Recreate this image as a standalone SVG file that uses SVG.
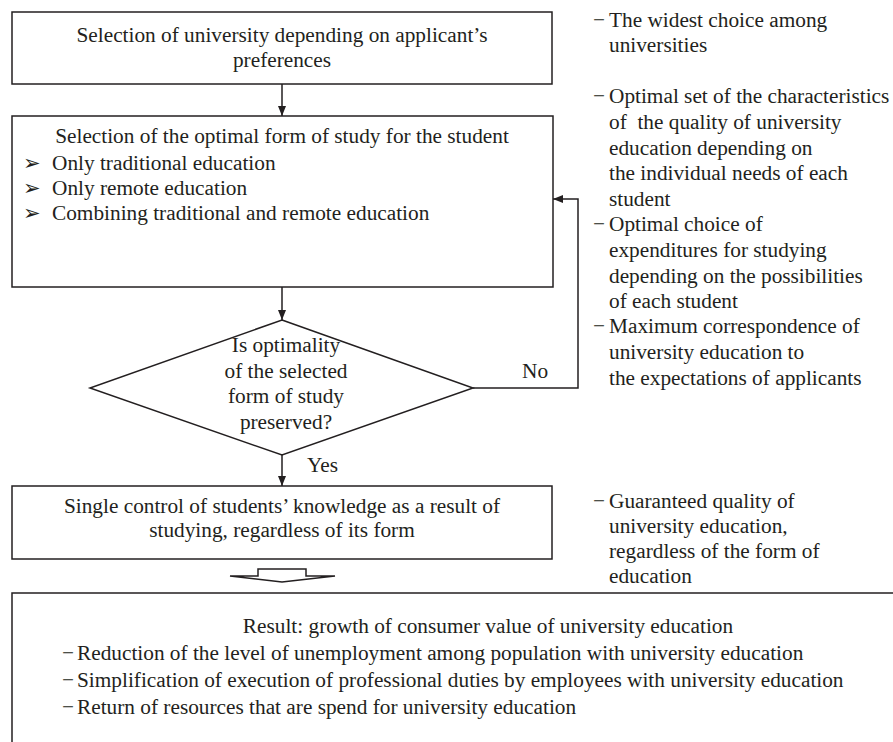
<svg xmlns="http://www.w3.org/2000/svg" width="893" height="742" viewBox="0 0 893 742">
<style>
text{font-family:"Liberation Serif","Times New Roman",serif;font-size:21.3px;fill:#231f20}
.c{text-anchor:middle}
.box{fill:#fff;stroke:#231f20;stroke-width:1.5}
.ln{fill:none;stroke:#231f20;stroke-width:1.5}
.bul{font-family:"DejaVu Sans",sans-serif;font-size:21px}
</style>
<defs>
<marker id="ah" viewBox="0 0 10 10" refX="10" refY="5" markerWidth="10" markerHeight="10" markerUnits="userSpaceOnUse" orient="auto">
<path d="M0,1 L10,5 L0,9 Z" fill="#231f20"/>
</marker>
</defs>
<rect width="893" height="742" fill="#fff"/>

<g id="connectors">
<line class="ln" x1="282" y1="84" x2="282" y2="116" marker-end="url(#ah)"/>
<line class="ln" x1="282" y1="287" x2="282" y2="320" marker-end="url(#ah)"/>
<line class="ln" x1="282" y1="455" x2="282" y2="486" marker-end="url(#ah)"/>
<polyline class="ln" points="473,388 578,388 578,199 553,199" marker-end="url(#ah)"/>
<text x="522" y="378">No</text>
<text x="307" y="472">Yes</text>
<path class="ln" d="M258,576 V569 H306 V576 H335 L282,582 L230,576 Z"/>
</g>

<g id="node-university">
<rect class="box" x="12" y="12" width="540" height="72"/>
<text class="c" x="282" y="42">Selection of university depending on applicant’s</text>
<text class="c" x="282" y="67">preferences</text>
</g>

<g id="node-form">
<rect class="box" x="12" y="116" width="541" height="171"/>
<text class="c" x="282" y="143">Selection of the optimal form of study for the student</text>
<text class="bul" x="23" y="170">➢</text>
<text x="52" y="170">Only traditional education</text>
<text class="bul" x="23" y="195">➢</text>
<text x="52" y="195">Only remote education</text>
<text class="bul" x="23" y="220">➢</text>
<text x="52" y="220">Combining traditional and remote education</text>
</g>

<g id="node-decision">
<polygon class="box" points="282,320 473,388 282,455 90,388"/>
<text class="c" x="286" y="352">Is optimality</text>
<text class="c" x="286" y="378">of the selected</text>
<text class="c" x="286" y="403">form of study</text>
<text class="c" x="286" y="429">preserved?</text>
</g>

<g id="node-control">
<rect class="box" x="12" y="486" width="540" height="73"/>
<text class="c" x="282" y="513">Single control of students’ knowledge as a result of</text>
<text class="c" x="282" y="537">studying, regardless of its form</text>
</g>

<g id="node-result">
<rect class="box" x="12" y="593" width="900" height="170"/>
<text class="c" x="488" y="633">Result: growth of consumer value of university education</text>
<text x="62" y="660">−</text><text x="77" y="660">Reduction of the level of unemployment among population with university education</text>
<text x="62" y="687">−</text><text x="77" y="687">Simplification of execution of professional duties by employees with university education</text>
<text x="62" y="714">−</text><text x="77" y="714">Return of resources that are spend for university education</text>
</g>

<g id="notes">
<text x="593" y="27">−</text><text x="609" y="27">The widest choice among</text>
<text x="609" y="52">universities</text>
<text x="593" y="103">−</text><text x="609" y="103">Optimal set of the characteristics</text>
<text x="609" y="129" style="white-space:pre">of  the quality of university</text>
<text x="609" y="155">education depending on</text>
<text x="609" y="180">the individual needs of each</text>
<text x="609" y="206">student</text>
<text x="593" y="231">−</text><text x="609" y="231">Optimal choice of</text>
<text x="609" y="257">expenditures for studying</text>
<text x="609" y="283">depending on the possibilities</text>
<text x="609" y="308">of each student</text>
<text x="593" y="333">−</text><text x="609" y="333">Maximum correspondence of</text>
<text x="609" y="359">university education to</text>
<text x="609" y="385">the expectations of applicants</text>
<text x="593" y="508">−</text><text x="609" y="508">Guaranteed quality of</text>
<text x="609" y="533">university education,</text>
<text x="609" y="558">regardless of the form of</text>
<text x="609" y="583">education</text>
</g>
</svg>
